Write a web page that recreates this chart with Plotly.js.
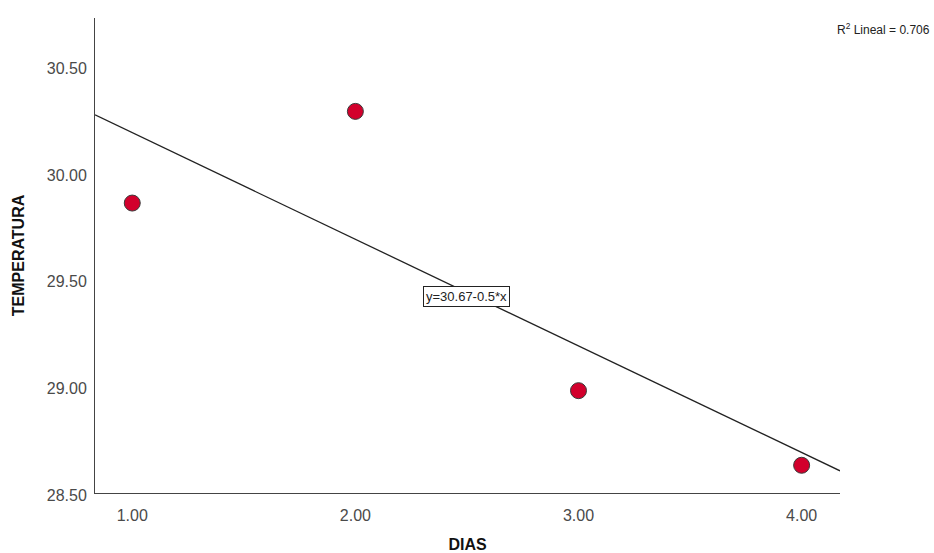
<!DOCTYPE html>
<html>
<head>
<meta charset="utf-8">
<script src="https://cdn.plot.ly/plotly-3.0.1.min.js"></script>
<style>html,body{margin:0;padding:0;background:#fff;}#chart{width:934px;height:553px;}</style>
</head>
<body>
<div id="chart"></div>
<script>
const dias = [1, 2, 3, 4];
const temperatura = [29.86, 30.29, 28.98, 28.63];
const xRange = [0.833, 4.172];
const yRange = [28.5, 30.728];
const xTicks = [1, 2, 3, 4];
const xTickLabels = ['1.00', '2.00', '3.00', '4.00'];
const yTicks = [28.5, 29, 29.5, 30, 30.5];
const yTickLabels = ['28.50', '29.00', '29.50', '30.00', '30.50'];
const eqLabel = 'y=30.67-0.5*x';
const r2Label = 'R<sup>2</sup> Lineal = 0.706';

// least-squares fit from data
const n = dias.length;
const mx = dias.reduce((a, b) => a + b, 0) / n;
const my = temperatura.reduce((a, b) => a + b, 0) / n;
let sxy = 0, sxx = 0;
for (let i = 0; i < n; i++) { sxy += (dias[i] - mx) * (temperatura[i] - my); sxx += (dias[i] - mx) ** 2; }
const slope = sxy / sxx;
const intercept = my - slope * mx;
const fitX = [xRange[0], xRange[1]];
const fitY = fitX.map(x => intercept + slope * x);

const font = 'Liberation Sans, Arial, sans-serif';

const traces = [
  { x: fitX, y: fitY, mode: 'lines', line: { color: '#222', width: 1.3 }, hoverinfo: 'skip', showlegend: false },
  { x: dias, y: temperatura, mode: 'markers', marker: { size: 16, color: '#d2002c', line: { color: '#3a3a3a', width: 1 } }, showlegend: false }
];

const layout = {
  width: 934, height: 553,
  margin: { l: 95, r: 94, t: 18, b: 60 },
  paper_bgcolor: '#fff', plot_bgcolor: '#fff',
  font: { family: font, color: '#444' },
  xaxis: {
    range: xRange, tickvals: xTicks, ticktext: xTickLabels,
    showgrid: false, zeroline: false, showline: true, linecolor: '#444', linewidth: 1,
    ticks: 'outside', ticklen: 8, tickcolor: 'rgba(0,0,0,0)',
    tickfont: { size: 16, color: '#4a4a4a', family: font },
    title: { text: '<b>DIAS</b>', font: { size: 16, color: '#111', family: font }, standoff: 18 }
  },
  yaxis: {
    range: yRange, tickvals: yTicks, ticktext: yTickLabels,
    showgrid: false, zeroline: false, showline: true, linecolor: '#444', linewidth: 1,
    ticks: 'outside', ticklen: 4, tickcolor: 'rgba(0,0,0,0)',
    ticklabelshift: 2,
    tickfont: { size: 16, color: '#4a4a4a', family: font },
    title: { text: '<b>TEMPERATURA</b>', font: { size: 16, color: '#111', family: font }, standoff: 18 }
  },
  annotations: [
    { x: mx, y: intercept + slope * mx, xref: 'x', yref: 'y', text: eqLabel, showarrow: false,
      font: { size: 13, color: '#222', family: font }, bgcolor: '#fff', bordercolor: '#222', borderwidth: 1, borderpad: 2,
      xanchor: 'center', yanchor: 'middle', yshift: -4 },
    { x: 1.1235, y: 0.977, xref: 'paper', yref: 'paper', text: r2Label, showarrow: false,
      font: { size: 12, color: '#222', family: font }, xanchor: 'right', yanchor: 'middle' }
  ]
};

Plotly.newPlot('chart', traces, layout, { displayModeBar: false, staticPlot: true });
</script>
</body>
</html>
